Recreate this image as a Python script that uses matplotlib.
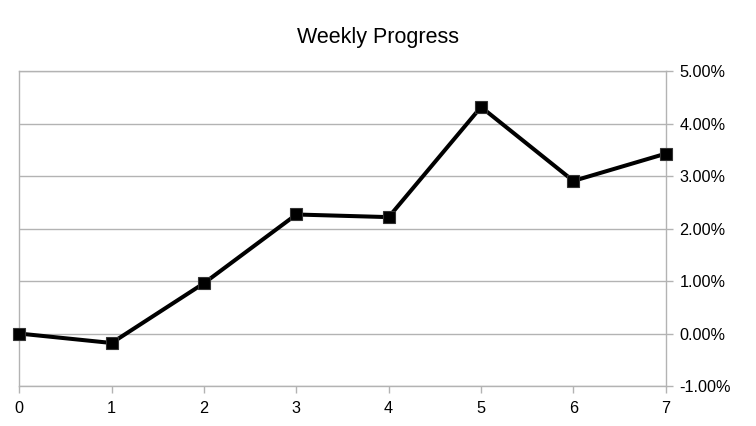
import matplotlib
matplotlib.use('Agg')
import matplotlib.pyplot as plt
import matplotlib.ticker as ticker

weeks = [0, 1, 2, 3, 4, 5, 6, 7]
progress = [0.0000, -0.0018, 0.0096, 0.0227, 0.0222, 0.0432, 0.0291, 0.0343]
y_ticks = [-0.01, 0.0, 0.01, 0.02, 0.03, 0.04, 0.05]

grid_color = '#b3b3b3'

plt.rcParams['font.family'] = ['Liberation Sans', 'DejaVu Sans']

fig = plt.figure(figsize=(7.56, 4.26), dpi=100)
ax = fig.add_axes([0.0255, 0.0939, 0.8551, 0.7387])

ax.plot(weeks, progress, color='black', linewidth=2.9, marker='s',
        markersize=8.5, markerfacecolor='black', markeredgecolor='#333333',
        markeredgewidth=0.8, zorder=3, clip_on=False)

ax.set_xlim(0, 7)
ax.set_ylim(-0.01, 0.05)
ax.set_xticks(weeks)
ax.set_yticks(y_ticks)
ax.yaxis.set_major_formatter(ticker.FuncFormatter(lambda v, p: f"{v * 100:.2f}%"))

ax.yaxis.tick_right()
ax.yaxis.grid(True, color=grid_color, linewidth=1)
ax.xaxis.grid(False)
ax.set_axisbelow(True)

for side in ['top', 'bottom', 'left', 'right']:
    ax.spines[side].set_color(grid_color)
    ax.spines[side].set_linewidth(1)

ax.tick_params(axis='x', colors=grid_color, length=5, width=1, pad=6,
               labelcolor='black', labelsize=11.7)
ax.tick_params(axis='y', colors=grid_color, length=5, width=1, pad=5,
               labelcolor='black', labelsize=11.7)

fig.text(0.5, 1 - 43.3 / 426, "Weekly Progress", ha='center', va='baseline',
         fontsize=15.5)

fig.savefig('out.png', dpi=100)
